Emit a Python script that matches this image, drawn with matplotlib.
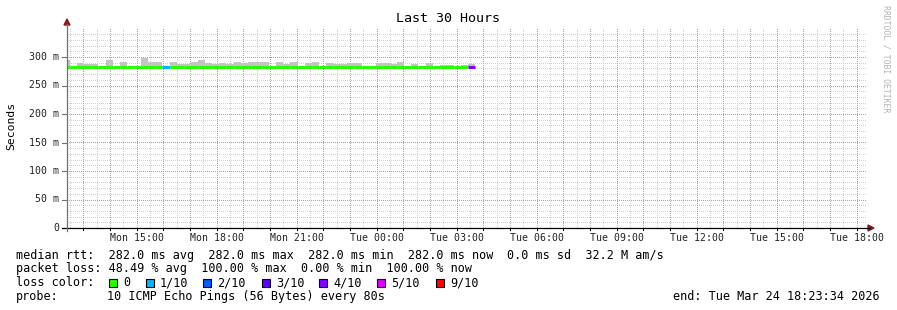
import numpy as np
import matplotlib
matplotlib.use("Agg")
import matplotlib.pyplot as plt
from matplotlib.patches import Rectangle, Polygon
from matplotlib.colors import to_rgb

# ---------------- data ----------------
title = "Last 30 Hours"
y_label = "Seconds"
x_tick_labels = ["Mon 15:00", "Mon 18:00", "Mon 21:00", "Tue 00:00", "Tue 03:00",
                 "Tue 06:00", "Tue 09:00", "Tue 12:00", "Tue 15:00", "Tue 18:00"]
x_tick_hours = [2.6072, 5.6072, 8.6072, 11.6072, 14.6072,
                17.6072, 20.6072, 23.6072, 26.6072, 29.6072]   # hours after 12:23:34 Mon
y_tick_values = [0, 50, 100, 150, 200, 250, 300]
y_tick_labels = ["0", "50 m", "100 m", "150 m", "200 m", "250 m", "300 m"]

step_hours = 16 / 60.0
first_step_start = -0.154
# median rtt (ms) per 16-min step
median_ms = [282.0] * 58
# top of smoke (ms) per step, nan = no visible smoke
smoke_top_ms = [295, np.nan, 289, 288, 288, np.nan, 295, np.nan, 291, np.nan,
                285, 298, 291, 292, 285, 291, 288, 288, 292, 294,
                290, 288, 289, 288, 292, 289, 291, 292, 292, np.nan,
                291, 288, 291, 285, 289, 291, np.nan, 289, 288, 288,
                289, 289, np.nan, np.nan, 289, 289, 288, 291, np.nan, 288,
                np.nan, 289, np.nan, 286, 286, np.nan, 286, 288]
# lost pings (of 10) per step
loss_count = [0] * 14 + [1] + [0] * 42 + [4]

loss_levels = ["0", "1/10", "2/10", "3/10", "4/10", "5/10", "9/10"]
loss_level_counts = [0, 1, 2, 3, 4, 5, 9]
loss_colors = ["#26ff00", "#00b8ff", "#0059ff", "#5e00ff", "#7e00ff", "#dd00ff", "#ff0000"]

legend_rtt = "median rtt:  282.0 ms avg  282.0 ms max  282.0 ms min  282.0 ms now"
legend_rtt2 = "0.0 ms sd  32.2 M am/s"
legend_loss = "packet loss: 48.49 % avg  100.00 % max  0.00 % min  100.00 % now"
legend_probe_key = "probe:"
legend_probe = "10 ICMP Echo Pings (56 Bytes) every 80s"
legend_end = "end: Tue Mar 24 18:23:34 2026"
watermark = "RRDTOOL / TOBI OETIKER"

# ---------------- figure ----------------
W, H = 897, 310
PX0, PY_BOTTOM = 67, 228   # plot origin in image pixels (from top-left)
PW, PH = 800, 200          # plot area in pixels
XMAX, YMAX = 30.0, PH / 0.57
fig = plt.figure(figsize=(W / 100, H / 100), dpi=100)
fig.patch.set_facecolor("white")

def fx(x):
    return x / W

def fy(y):
    return 1 - y / H

mono = "DejaVu Sans Mono"
ax = fig.add_axes([fx(PX0), fy(PY_BOTTOM), PW / W, PH / H])
ax.set_xlim(0, XMAX)
ax.set_ylim(0, YMAX)
for s in ax.spines.values():
    s.set_visible(False)
ax.set_xticks([])
ax.set_yticks([])
ax.patch.set_alpha(0)

# dotted grid rendered pixel-exact (placed with figimage, no resampling)
minor_col = np.array(to_rgb("#d0d0d0"))
major_col = np.array(to_rgb("#ff7f7f"))
grid = np.ones((PH, PW, 3))

def hline(v, col):
    r = PH - int(round(v / YMAX * PH))
    if 0 <= r < PH:
        grid[r, 0::2] = col

def vline(h, col):
    c = int(round(h / XMAX * PW))
    if 0 <= c < PW:
        grid[1::2, c] = col

for v in np.arange(10, 350, 10):
    if v % 50:
        hline(v, minor_col)
for h in np.arange(0.1072, XMAX, 1.0):
    vline(h, minor_col)
for v in np.arange(50, 350, 50):
    hline(v, major_col)
for h in np.arange(0.6072, XMAX, 1.0):
    vline(h, major_col)
fig.figimage(grid, xo=PX0, yo=H - PY_BOTTOM, origin="upper", zorder=-1)

# smoke
n = len(median_ms)
starts = first_step_start + np.arange(n) * step_hours
smoke = np.array(smoke_top_ms, dtype=float)
med = np.array(median_ms)
ax.bar(starts, np.nan_to_num(smoke - med, nan=0.0), bottom=med, width=step_hours,
       align="edge", color="#c4c4c4", linewidth=0, zorder=3)

# median line coloured by loss
cmap = dict(zip(loss_level_counts, loss_colors))
for i in range(n):
    ax.plot([starts[i], starts[i] + step_hours], [med[i], med[i]],
            color=cmap[loss_count[i]], lw=2.2, solid_capstyle="butt", zorder=4)

# axes lines and arrows (in figure pixels)
fig.add_artist(plt.Line2D([fx(62), fx(870)], [fy(228), fy(228)], color="black", lw=0.9))
fig.add_artist(plt.Line2D([fx(67), fx(67)], [fy(231), fy(24)], color="#707070", lw=0.9))
fig.add_artist(Polygon([[fx(868), fy(225)], [fx(874), fy(228)], [fx(868), fy(231)]],
                       closed=True, color="#8b1a1a", transform=fig.transFigure))
fig.add_artist(Polygon([[fx(64), fy(25)], [fx(67), fy(19)], [fx(70), fy(25)]],
                       closed=True, color="#8b1a1a", transform=fig.transFigure))

# y ticks & labels
for v, lab in zip(y_tick_values, y_tick_labels):
    ax.plot([-0.19, 0], [v, v], color="#707070", lw=0.8, clip_on=False, zorder=5)
    ax.text(-0.30, v, lab, ha="right", va="center", fontsize=7.1, family=mono,
            color="#222222")
# x ticks & labels
for h in np.arange(0.6072, XMAX, 1.0):
    ax.plot([h, h], [0, -2 / 0.57], color="black", lw=0.7, clip_on=False)
for h, lab in zip(x_tick_hours, x_tick_labels):
    ax.text(h, -10 / 0.57, lab, ha="center", va="center", fontsize=7.1,
            family=mono, color="#222222")

# title, y label, watermark
fig.text(fx(448), fy(19), title, ha="center", va="center", fontsize=9.6, family=mono)
fig.text(fx(11), fy(126), y_label, ha="center", va="center", rotation=90,
         fontsize=8.2, family=mono)
fig.text(fx(886), fy(59), watermark, ha="center", va="center", rotation=270,
         fontsize=5.9, family=mono, color="#b4b4b4")

# legend
lf = 8.45
fig.text(fx(16), fy(255), legend_rtt, ha="left", va="center", fontsize=lf, family=mono)
fig.text(fx(507), fy(255), legend_rtt2, ha="left", va="center", fontsize=lf, family=mono)
fig.text(fx(16), fy(268.5), legend_loss, ha="left", va="center", fontsize=lf, family=mono)
fig.text(fx(16), fy(282.5), "loss color:", ha="left", va="center", fontsize=lf, family=mono)
sq_x = [109, 146, 203, 262, 319, 377, 436]
for xs, lab, col in zip(sq_x, loss_levels, loss_colors):
    fig.add_artist(Rectangle((fx(xs), fy(286.5)), 8 / W, 8 / H, facecolor=col,
                             edgecolor="black", lw=0.8, transform=fig.transFigure))
    fig.text(fx(xs + 14), fy(282.5), lab, ha="left", va="center", fontsize=lf, family=mono)
fig.text(fx(16), fy(296.5), legend_probe_key, ha="left", va="center", fontsize=lf, family=mono)
fig.text(fx(107), fy(296.5), legend_probe, ha="left", va="center", fontsize=lf, family=mono)
fig.text(fx(880), fy(296.5), legend_end, ha="right", va="center", fontsize=lf, family=mono)

fig.savefig("out.png", dpi=100, facecolor="white")
